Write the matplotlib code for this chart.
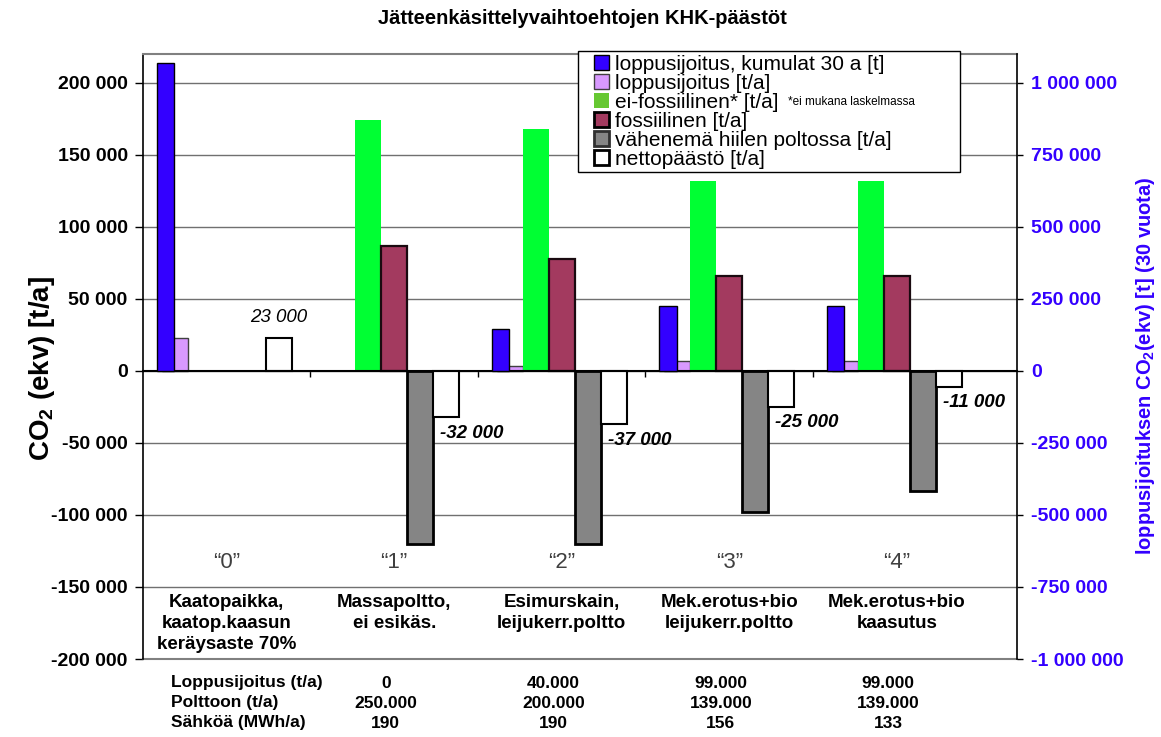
import numpy as np
import matplotlib.pyplot as plt
from matplotlib.patches import Patch, Rectangle
from matplotlib.ticker import FuncFormatter
from matplotlib.transforms import blended_transform_factory

plt.rcParams['font.family'] = ['Liberation Sans', 'DejaVu Sans']
plt.rcParams['mathtext.fontset'] = 'custom'
plt.rcParams['mathtext.rm'] = 'Liberation Sans'
plt.rcParams['mathtext.bf'] = 'Liberation Sans:bold'

# scenario data
scenarios = ['“0”', '“1”', '“2”', '“3”', '“4”']
scenario_names = ['Kaatopaikka,\nkaatop.kaasun\nkeräysaste 70%',
                  'Massapoltto,\nei esikäs.',
                  'Esimurskain,\nleijukerr.poltto',
                  'Mek.erotus+bio\nleijukerr.poltto',
                  'Mek.erotus+bio\nkaasutus']
landfill_cum30 = [1070000, 0, 147000, 227000, 227000]   # right axis [t]
landfill_year = [23000, 0, 3500, 7200, 7200]
non_fossil = [0, 174000, 168000, 132000, 132000]
fossil = [0, 87000, 78000, 66000, 66000]
coal_saving = [0, -120000, -120000, -98000, -83500]
net_emission = [23000, -32000, -37000, -25000, -11000]

table_rows = ['Loppusijoitus (t/a)', 'Polttoon (t/a)', 'Sähköä (MWh/a)']
table_vals = [['0', '40.000', '99.000', '99.000'],
              ['250.000', '200.000', '139.000', '139.000'],
              ['190', '190', '156', '133']]

BLUE = '#3300FF'
PINK = '#D899FF'
GREEN = '#00FF33'
MAROON = '#A33A5F'
GREY = '#858585'


def nz(vals):
    # empty bars are not drawn at all
    return [v if v != 0 else np.nan for v in vals]


W, H = 1161, 737
fig = plt.figure(figsize=(W / 100, H / 100), dpi=100)
ax = fig.add_axes([143 / W, 78 / H, 874 / W, 605 / H])
ax2 = ax.twinx()

x = np.arange(len(scenarios))
w = 0.155
ax.bar(x - 2 * w, nz(landfill_year), w, color=PINK, edgecolor='#404040', linewidth=1, zorder=2)
ax.bar(x - w, nz(non_fossil), w, color=GREEN, linewidth=0, zorder=2)
ax.bar(x, nz(fossil), w, color=MAROON, edgecolor='#1a0a10', linewidth=1.6, zorder=2)
ax.bar(x + w, nz(coal_saving), w, color=GREY, edgecolor='black', linewidth=2, zorder=2)
ax.bar(x + 2 * w, nz(net_emission), w, color='white', edgecolor='black', linewidth=1.5, zorder=2)
ax2.bar(x - 0.365, nz(landfill_cum30), 0.105, color=BLUE, edgecolor='black', linewidth=1, zorder=2)

ax.set_xlim(-0.5, 4.718)
ax.set_ylim(-200000, 220000)
ax2.set_ylim(-1000000, 1100000)

fmt = FuncFormatter(lambda v, _: f'{int(v):,}'.replace(',', ' '))
ax.set_yticks(np.arange(-200000, 200001, 50000))
ax.yaxis.set_major_formatter(fmt)
ax2.set_yticks(np.arange(-1000000, 1000001, 250000))
ax2.yaxis.set_major_formatter(fmt)

ax.tick_params(axis='y', direction='out', length=6, width=1, pad=5, labelsize=14)
for t in ax.get_yticklabels():
    t.set_fontweight('bold')
ax2.tick_params(axis='y', direction='out', length=4, width=1, pad=6,
                labelsize=14, labelcolor=BLUE)
for t in ax2.get_yticklabels():
    t.set_fontweight('bold')

ax.set_xticks([0.5, 1.5, 2.5, 3.5])
ax.set_xticklabels([])
ax.tick_params(axis='x', direction='out', length=4.5, width=1, color='black')

ax.yaxis.grid(True, color='#707070', linewidth=1)
ax.set_axisbelow(True)
ax.axhline(-200000, color='#808080', linewidth=1.5, clip_on=False, zorder=1)

ax.spines['bottom'].set_position(('data', 0))
ax.spines['bottom'].set_linewidth(1.5)
ax.spines['top'].set_color('#808080')
ax.spines['top'].set_linewidth(1.5)
ax.spines['right'].set_visible(False)
ax.spines['left'].set_linewidth(1.2)
for s in ['top', 'bottom', 'left']:
    ax2.spines[s].set_visible(False)
ax2.spines['right'].set_linewidth(1.2)

ax.set_ylabel(r'CO$_\mathbf{2}$ (ekv) [t/a]', fontsize=20, fontweight='bold')
ax.yaxis.set_label_coords(-0.098, 0.48)
ax2.set_ylabel(r'loppusijoituksen CO$_\mathbf{2}$(ekv) [t] (30 vuota)',
               fontsize=14.5, fontweight='bold', color=BLUE, rotation=90)
ax2.yaxis.set_label_coords(1.134, 0.485)

# net emission labels
for i, v in enumerate(net_emission):
    label = f'{v:,}'.replace(',', ' ')
    if v > 0:
        ax.annotate(label, (x[i] + 2 * w, v), xytext=(0, 20), textcoords='offset pixels',
                    ha='center', va='center', fontsize=13.5, style='italic')
    else:
        ax.annotate(label, (x[i] + 1.5 * w, v), xytext=(7, -16), textcoords='offset pixels',
                    ha='left', va='center', fontsize=13.5, style='italic', fontweight='bold')

# scenario numbers and names inside the plot area
for i in x:
    ax.text(i, -133000, scenarios[i], ha='center', va='center', fontsize=16, color='#404040')
    ax.text(i, -155000, scenario_names[i], ha='center', va='top', fontsize=13.5,
            fontweight='bold', linespacing=1.3)

# table below the chart
tr = blended_transform_factory(ax.transData, fig.transFigure)
row_y = [1 - 683 / H, 1 - 703 / H, 1 - 723 / H]
narrow = ['Liberation Sans Narrow', 'Liberation Sans']
for r, name in enumerate(table_rows):
    ax.text(-0.33, row_y[r], name, transform=tr, ha='left', va='center', fontsize=12.5,
            fontweight='bold', family=narrow)
    for c, val in enumerate(table_vals[r]):
        ax.text(c + 1 - 0.05, row_y[r], val, transform=tr, ha='center', va='center',
                fontsize=12.5, fontweight='bold', family=narrow)

fig.text(582 / W, 1 - 18 / H, 'Jätteenkäsittelyvaihtoehtojen KHK-päästöt',
         ha='center', va='center', fontsize=14.5, fontweight='bold')

# legend: own frame box, entries on top
fig.add_artist(Rectangle((578 / W, 1 - 172 / H), 382 / W, 121 / H, transform=fig.transFigure,
                         facecolor='white', edgecolor='black', linewidth=1, zorder=3))
handles = [
    Patch(facecolor=BLUE, edgecolor='black', linewidth=1),
    Patch(facecolor=PINK, edgecolor='#404040', linewidth=1),
    Patch(facecolor='#66C832', edgecolor='#66C832', linewidth=0),
    Patch(facecolor=MAROON, edgecolor='black', linewidth=2),
    Patch(facecolor=GREY, edgecolor='#303030', linewidth=2),
    Patch(facecolor='white', edgecolor='black', linewidth=2),
]
labels = ['loppusijoitus, kumulat 30 a [t]', 'loppusijoitus [t/a]',
          'ei-fossiilinen* [t/a]', 'fossiilinen [t/a]',
          'vähenemä hiilen poltossa [t/a]', 'nettopäästö [t/a]']
leg = fig.legend(handles, labels, loc='upper left', bbox_to_anchor=(594 / W, 1 - 55 / H),
                 borderaxespad=0, borderpad=0, fontsize=15, labelspacing=0.0,
                 handlelength=0.7, handleheight=0.7, handletextpad=0.33, frameon=False)
leg.set_zorder(5)
fig.text(788 / W, 1 - 102 / H, '*ei mukana laskelmassa', ha='left', va='center',
         fontsize=8.5, zorder=6)

fig.savefig('out.png', dpi=100)
